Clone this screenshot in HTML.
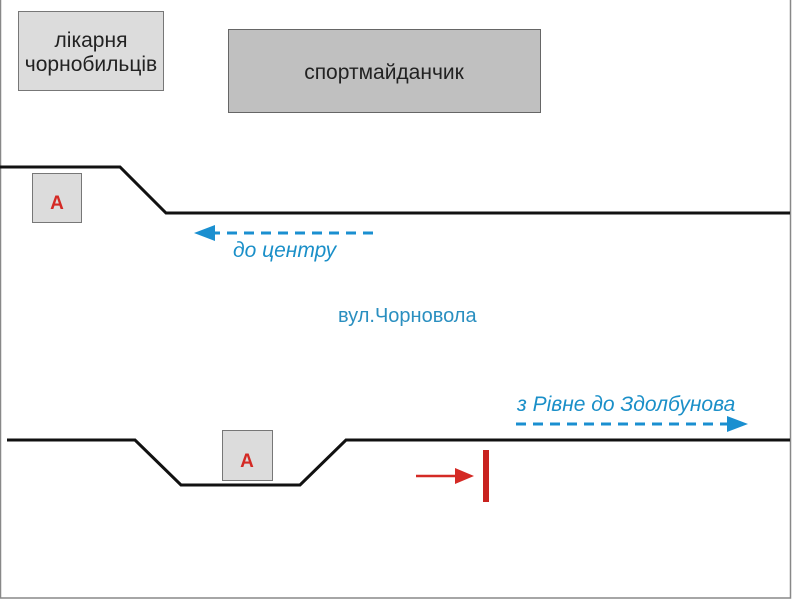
<!DOCTYPE html>
<html><head><meta charset="utf-8"><style>html,body{margin:0;padding:0;background:#fff}svg{display:block}</style></head>
<body>
<svg width="800" height="600" viewBox="0 0 800 600" xmlns="http://www.w3.org/2000/svg" font-family="Liberation Sans, Arial, sans-serif">
<rect x="0.5" y="-2" width="790" height="600" fill="#fff" stroke="#888" stroke-width="1.5"/>
<rect x="18.5" y="11.5" width="145" height="79" fill="#dcdcdc" stroke="#777"/>
<text x="91" y="47" font-size="21" text-anchor="middle" fill="#222">лікарня</text>
<text x="91" y="71" font-size="21" text-anchor="middle" fill="#222">чорнобильців</text>
<rect x="228.5" y="29.5" width="312" height="83" fill="#c0c0c0" stroke="#666"/>
<text x="384" y="79" font-size="21" text-anchor="middle" fill="#222">спортмайданчик</text>
<polyline points="0,167 120,167 166,213 790,213" fill="none" stroke="#111" stroke-width="3"/>
<rect x="32.5" y="173.5" width="49" height="49" fill="#dcdcdc" stroke="#777"/>
<text x="57" y="209" font-size="19" font-weight="bold" text-anchor="middle" fill="#d42a25">A</text>
<line x1="373" y1="233" x2="210" y2="233" stroke="#1a8fd0" stroke-width="3" stroke-dasharray="10,7"/>
<polygon points="194,233 215,225 215,241" fill="#1a8fd0"/>
<text x="233" y="257" font-size="21" font-style="italic" fill="#1a8fc8">до центру</text>
<text x="338" y="322" font-size="20" fill="#2a8fc0">вул.Чорновола</text>
<polyline points="7,440 135,440 181,485 300,485 346,440 790,440" fill="none" stroke="#111" stroke-width="3"/>
<rect x="222.5" y="430.5" width="50" height="50" fill="#dcdcdc" stroke="#777"/>
<text x="247" y="467" font-size="19" font-weight="bold" text-anchor="middle" fill="#d42a25">A</text>
<text x="517" y="411" font-size="21" font-style="italic" fill="#1a8fc8">з Рівне до Здолбунова</text>
<line x1="516" y1="424" x2="730" y2="424" stroke="#1a8fd0" stroke-width="3" stroke-dasharray="10,7"/>
<polygon points="748,424 727,416 727,432" fill="#1a8fd0"/>
<line x1="416" y1="476" x2="458" y2="476" stroke="#d42a25" stroke-width="2.5"/>
<polygon points="474,476 455,468 455,484" fill="#d42a25"/>
<rect x="483" y="450" width="6" height="52" fill="#c8221f"/>
</svg>
</body></html>
